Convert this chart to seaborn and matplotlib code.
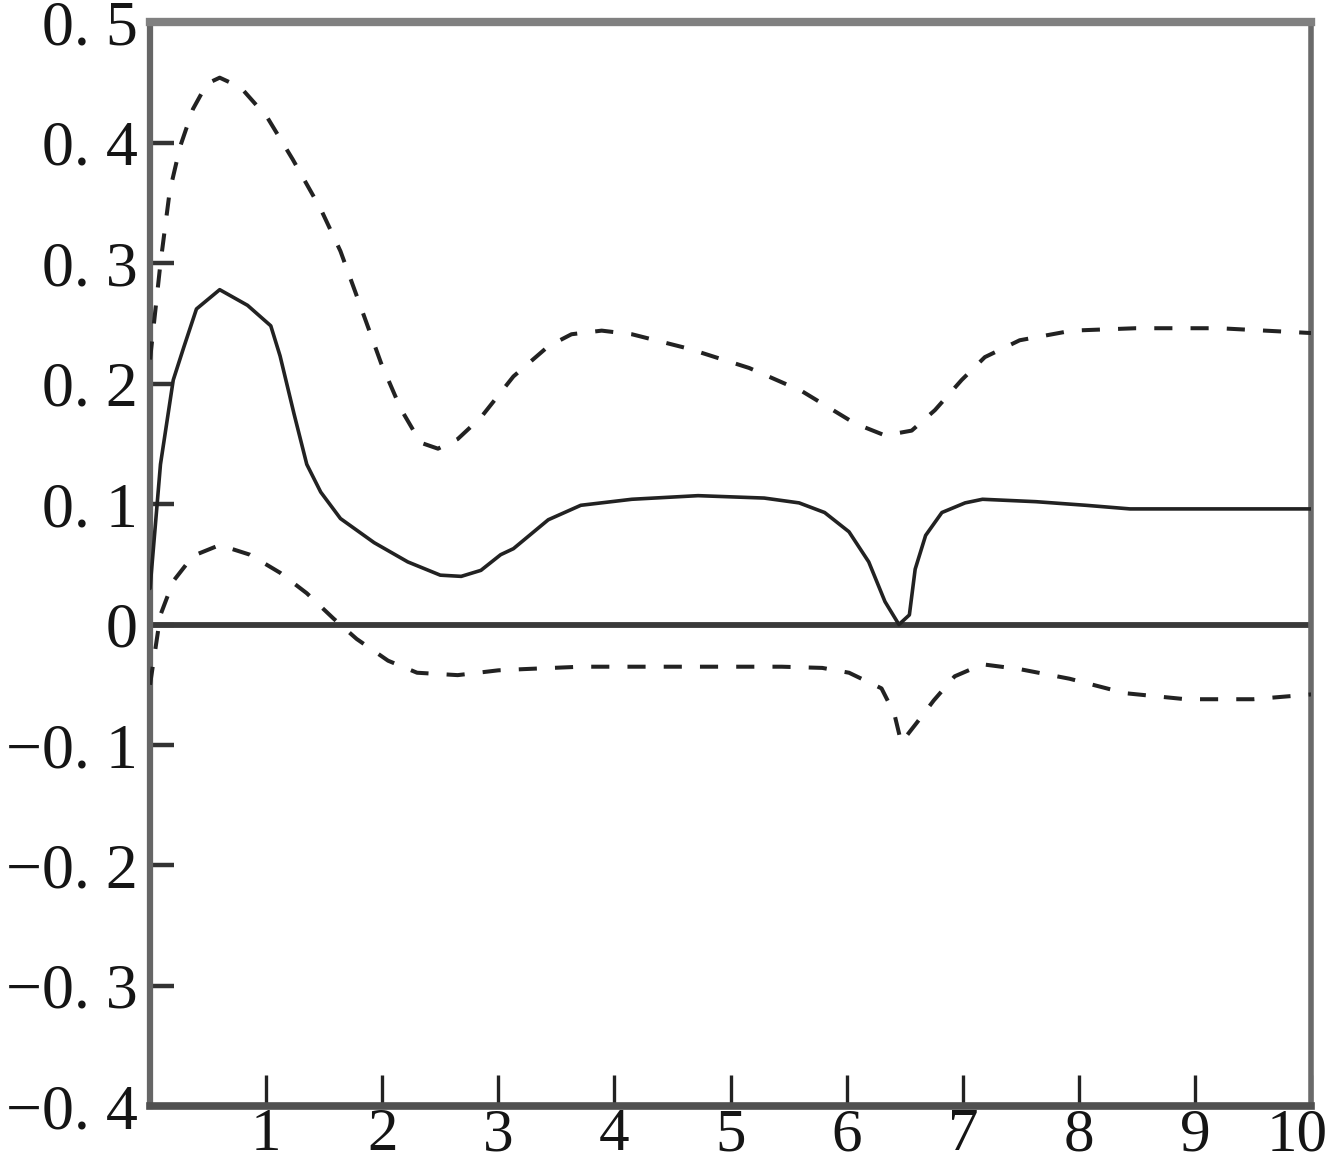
import matplotlib
matplotlib.use("Agg")
import matplotlib.pyplot as plt
from matplotlib.transforms import ScaledTranslation
import seaborn as sns

# impulse response (solid) and its upper / lower bands (dashed)
resp_x = [0.0, 0.09, 0.2, 0.29, 0.4, 0.6, 0.84, 1.04, 1.12, 1.24, 1.35, 1.47, 1.64,
          1.93, 2.22, 2.5, 2.68, 2.85, 3.02, 3.13, 3.43, 3.71, 4.15, 4.72, 5.29, 5.59,
          5.81, 6.02, 6.19, 6.33, 6.45, 6.54, 6.59, 6.68, 6.82, 7.02, 7.17, 7.63,
          8.06, 8.44, 10.0]
resp_y = [0.03, 0.133, 0.203, 0.23, 0.262, 0.278, 0.265, 0.248, 0.223, 0.175, 0.133, 0.11,
          0.088, 0.068, 0.052, 0.041, 0.04, 0.045, 0.058, 0.063, 0.087, 0.099, 0.104, 0.107,
          0.105, 0.101, 0.093, 0.077, 0.052, 0.019, 0.0, 0.008, 0.046, 0.074, 0.093, 0.101,
          0.104, 0.102, 0.099, 0.096, 0.096]

upper_x = [0.0, 0.09, 0.17, 0.26, 0.37, 0.49, 0.6, 0.78, 1.01, 1.23, 1.47, 1.64, 1.81,
           1.99, 2.16, 2.33, 2.48, 2.65, 2.85, 3.13, 3.43, 3.63, 3.89, 4.15, 4.64, 5.16,
           5.61, 6.07, 6.33, 6.56, 6.76, 6.99, 7.19, 7.49, 7.94, 8.49, 9.21, 10.0]
upper_y = [0.22, 0.3, 0.36, 0.397, 0.428, 0.449, 0.454, 0.446, 0.421, 0.386, 0.345, 0.31,
           0.265, 0.217, 0.179, 0.151, 0.146, 0.154, 0.172, 0.206, 0.231, 0.241, 0.244, 0.241,
           0.229, 0.213, 0.194, 0.167, 0.157, 0.161, 0.178, 0.203, 0.222, 0.236, 0.244,
           0.246, 0.246, 0.242]

lower_x = [0.0, 0.09, 0.2, 0.37, 0.6, 0.86, 1.12, 1.35, 1.58, 1.78, 2.05, 2.3, 2.65,
           3.0, 3.22, 3.71, 5.44, 5.79, 6.02, 6.3, 6.41, 6.47, 6.6, 6.75, 6.93, 7.17,
           7.49, 7.92, 8.4, 8.92, 9.5, 10.0]
lower_y = [-0.05, 0.008, 0.036, 0.057, 0.066, 0.058, 0.043, 0.026, 0.005, -0.012, -0.03,
           -0.04, -0.042, -0.038, -0.037, -0.035, -0.035, -0.036, -0.04, -0.053, -0.074,
           -0.098, -0.082, -0.063, -0.043, -0.033, -0.037, -0.045, -0.057, -0.062, -0.062,
           -0.058]

x_ticks = [1, 2, 3, 4, 5, 6, 7, 8, 9, 10]
y_ticks = [0.5, 0.4, 0.3, 0.2, 0.1, 0, -0.1, -0.2, -0.3, -0.4]
y_labels = ["0. 5", "0. 4", "0. 3", "0. 2", "0. 1", "0",
            "\u22120. 1", "\u22120. 2", "\u22120. 3", "\u22120. 4"]

sns.set_style("white")
plt.rcParams["font.family"] = ["Liberation Serif", "DejaVu Serif"]

fig = plt.figure(figsize=(13.3, 11.72), dpi=100)
ax = fig.add_axes([0.1128, 0.056, 0.873, 0.925])

ax.axhline(0, color="#3a3a3a", lw=4.2, zorder=1)
sns.lineplot(x=resp_x, y=resp_y, ax=ax, color="#222222", lw=2.6, zorder=3)
dash = (0, (4.5, 4.5))
sns.lineplot(x=upper_x, y=upper_y, ax=ax, color="#222222", lw=2.9, linestyle=dash, zorder=3)
sns.lineplot(x=lower_x, y=lower_y, ax=ax, color="#222222", lw=2.9, linestyle=dash, zorder=3)

ax.set_xlim(0, 10)
ax.set_ylim(-0.4, 0.5)
ax.set_xticks(x_ticks)
ax.set_xticklabels([str(t) for t in x_ticks])
ax.set_yticks(y_ticks)
ax.set_yticklabels(y_labels)
ax.tick_params(axis="y", left=True, direction="in", length=17, width=3.2, color="#333333",
               labelsize=46, labelcolor="#151515", pad=9)
ax.tick_params(axis="x", bottom=True, direction="in", length=22, width=2.4, color="#222222",
               labelsize=44, labelcolor="#151515", pad=1)

# the last x label sits a bit to the left so it stays inside the figure
last = ax.get_xticklabels()[-1]
last.set_transform(last.get_transform() + ScaledTranslation(-0.14, 0, fig.dpi_scale_trans))

for side, w, c in [("top", 6, "#808080"), ("left", 4.5, "#666666"),
                   ("right", 4, "#6a6a6a"), ("bottom", 5.5, "#505050")]:
    ax.spines[side].set_visible(True)
    ax.spines[side].set_linewidth(w)
    ax.spines[side].set_color(c)

fig.savefig("out.png", dpi=100)
